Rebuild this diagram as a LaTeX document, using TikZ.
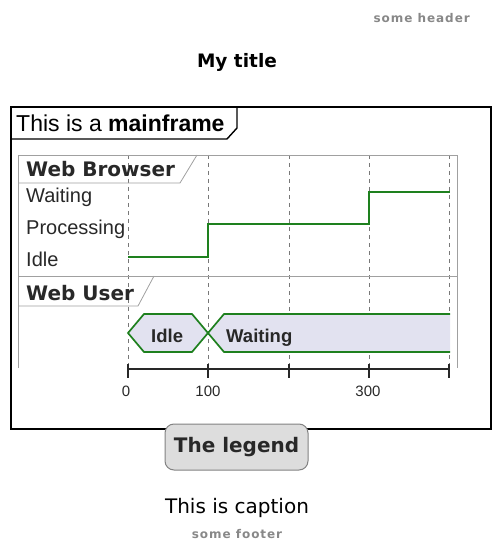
\documentclass[tikz,border=0pt]{standalone}
\usepackage{fontspec}
\setmainfont{Liberation Sans}
\newfontfamily\dv{DejaVu Sans}
\newfontfamily\dvsp[LetterSpace=8]{DejaVu Sans}
\definecolor{sgreen}{RGB}{30,128,30}
\definecolor{lav}{RGB}{226,226,240}
\definecolor{txt}{RGB}{40,40,40}
\definecolor{innerline}{RGB}{160,160,160}
\definecolor{dashc}{RGB}{120,120,120}
\definecolor{hf}{RGB}{136,136,136}
\definecolor{legfill}{RGB}{221,221,221}
\definecolor{legline}{RGB}{130,130,130}
\tikzset{
  txtnode/.style={inner sep=0pt, text=txt},
  lbl/.style={txtnode, anchor=base west, font=\fontsize{20}{24}\selectfont},
  tabtxt/.style={txtnode, anchor=base west, font=\dv\bfseries\fontsize{20}{24}\selectfont},
  hextxt/.style={txtnode, anchor=base west, font=\bfseries\fontsize{18.5}{22}\selectfont},
  axtxt/.style={txtnode, anchor=base, font=\fontsize{15}{18}\selectfont},
  hftxt/.style={inner sep=0pt, text=hf, font=\dvsp\bfseries\fontsize{12}{14}\selectfont},
  innerl/.style={draw=innerline, line width=0.8pt},
  dashl/.style={draw=dashc, line width=0.7pt, dash pattern=on 4pt off 4pt},
  sig/.style={draw=sgreen, line width=2.4pt},
  hexl/.style={draw=sgreen, line width=1.7pt, fill=lav, line join=miter},
  axisl/.style={draw=txt, line width=2.5pt},
  tickl/.style={draw=txt, line width=2pt},
  legbox/.style={draw=legline, fill=legfill, rounded corners=9pt, line width=1pt,
    minimum width=143pt, minimum height=46pt, inner sep=0pt,
    text=txt, font=\dv\bfseries\fontsize{20}{24}\selectfont},
}
\begin{document}
\begin{tikzpicture}[x=1pt,y=-1pt]
\useasboundingbox (0,0) rectangle (493,545);
% header / title
\node[hftxt, anchor=base east] (hdr) at (470,23) {some header};
\node[txtnode, text=black, anchor=base, font=\dv\bfseries\fontsize{18.5}{22}\selectfont] (ttl) at (237,68) {My title};
% mainframe
\draw[line width=1.4pt] (11,107) rectangle (491,429);
\draw[line width=1.4pt] (237,107) -- (237,128) -- (227,139) -- (11,139);
\node[txtnode, text=black, anchor=base west, font=\fontsize{23}{27}\selectfont] (mf) at (16,132) {This is a \textbf{mainframe}};
% dashed time lines
\foreach \x/\n in {128/a,208/b,289/c,369/d,449/e}{
  \coordinate (t\n top) at (\x,155);
  \coordinate (t\n bot) at (\x,369);
  \draw[dashl] (t\n top) -- (t\n bot);
}
% inner area
\draw[innerl] (18,368) -- (18,155) -- (457,155) -- (457,368);
\draw[innerl] (18,276) -- (457,276);
\draw[innerl] (197,155) -- (180,183) -- (18,183);
\draw[innerl] (154,276) -- (138,306) -- (18,306);
\node[tabtxt] (wb) at (26,177) {Web Browser};
\node[tabtxt] (wu) at (26,300) {Web User};
\node[lbl] (lw) at (26,202) {Waiting};
\node[lbl] (lp) at (26,234) {Processing};
\node[lbl] (li) at (26,266) {Idle};
% browser signal
\coordinate (s0) at (128,257);
\coordinate (s1) at (208,257);
\coordinate (s2) at (208,224);
\coordinate (s3) at (369,224);
\coordinate (s4) at (369,192);
\coordinate (s5) at (450,192);
\draw[sig] (s0) -- (s1) -- (s2) -- (s3) -- (s4) -- (s5);
% user states
\fill[lav] (224,314) -- (450,314) -- (450,352) -- (224,352) -- (208,333) -- cycle;
\draw[hexl] (128,333) -- (144,314) -- (192,314) -- (208,333) -- (192,352) -- (144,352) -- cycle;
\draw[draw=sgreen, line width=1.7pt, line join=miter] (450,314) -- (224,314) -- (208,333) -- (224,352) -- (450,352);
\node[hextxt] (hi) at (151,342) {Idle};
\node[hextxt] (hw) at (226,342) {Waiting};
% axis
\draw[axisl] (128,369) -- (450,369);
\foreach \x in {128,208,289,369,449}{
  \draw[tickl] (\x,364) -- (\x,378);
}
\node[axtxt] (a0) at (126,396) {0};
\node[axtxt] (a1) at (208,396) {100};
\node[axtxt] (a3) at (368,396) {300};
% legend
\node[legbox] (leg) at (236.5,447) {The legend};
% caption / footer
\node[txtnode, text=black, anchor=base, font=\dv\fontsize{20}{24}\selectfont] (cap) at (237,513) {This is caption};
\node[hftxt, anchor=base] (ftr) at (237,538) {some footer};
\end{tikzpicture}
\end{document}
